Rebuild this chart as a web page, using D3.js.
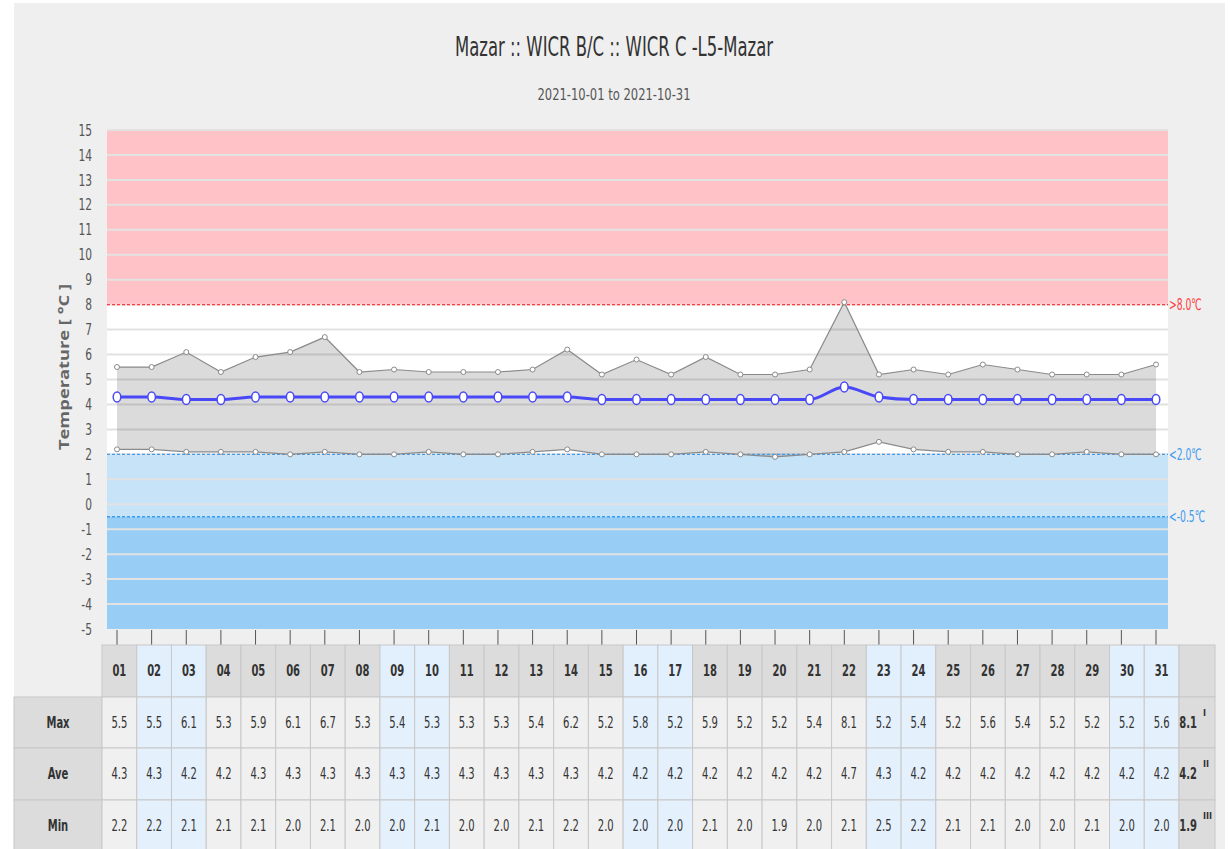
<!DOCTYPE html>
<html>
<head>
<meta charset="utf-8">
<script src="https://cdn.jsdelivr.net/npm/d3@7"></script>
<style>
	html, body { margin: 0; padding: 0; background: #fff; }
	#chart { width: 1230px; height: 849px; }
	text { font-family: "Liberation Sans Narrow", "DejaVu Sans Condensed", sans-serif; }
</style>
</head>
<body>
<div id="chart"></div>
<script>
// --- data
let days     = ['01','02','03','04','05','06','07','08','09','10','11','12','13','14','15','16','17','18','19','20','21','22','23','24','25','26','27','28','29','30','31'];
let weekends = ['02','03','09','10','16','17','23','24','30','31'];
let maxVals  = [5.5,5.5,6.1,5.3,5.9,6.1,6.7,5.3,5.4,5.3,5.3,5.3,5.4,6.2,5.2,5.8,5.2,5.9,5.2,5.2,5.4,8.1,5.2,5.4,5.2,5.6,5.4,5.2,5.2,5.2,5.6];
let aveVals  = [4.3,4.3,4.2,4.2,4.3,4.3,4.3,4.3,4.3,4.3,4.3,4.3,4.3,4.3,4.2,4.2,4.2,4.2,4.2,4.2,4.2,4.7,4.3,4.2,4.2,4.2,4.2,4.2,4.2,4.2,4.2];
let minVals  = [2.2,2.2,2.1,2.1,2.1,2.0,2.1,2.0,2.0,2.1,2.0,2.0,2.1,2.2,2.0,2.0,2.0,2.1,2.0,1.9,2.0,2.1,2.5,2.2,2.1,2.1,2.0,2.0,2.1,2.0,2.0];
let yTicks   = d3.range(-5, 16);
let limits   = [
	{ value: 8,    label: '>8.0℃',  color: '#ff3c3c' },
	{ value: 2,    label: '<2.0℃',  color: '#3d9bf0' },
	{ value: -0.5, label: '<-0.5℃', color: '#3d9bf0' }
];
let bands    = [
	{ from: 8,    to: 15,   color: '#ffc2c6' },
	{ from: 2,    to: 8,    color: '#ffffff' },
	{ from: -0.5, to: 2,    color: '#c6e3f8' },
	{ from: -5,   to: -0.5, color: '#98cef6' }
];
let rowNames = ['Max', 'Ave', 'Min'];
let summary  = [{ v: '8.1', s: 'I' }, { v: '4.2', s: 'II' }, { v: '1.9', s: 'III' }];

// --- layout
let canvasWidth  = 1230;
let canvasHeight = 849;
let plot = { left: 107, right: 1168, top: 130, bottom: 629 };

let svg = d3.select('#chart').append('svg')
	.attr('width', canvasWidth)
	.attr('height', canvasHeight);

svg.append('rect')
	.attr('x', 14).attr('y', 3)
	.attr('width', 1211).attr('height', canvasHeight)
	.attr('fill', '#efefef');

let x = d3.scalePoint().domain(days).range([117, 1156]);
let y = d3.scaleLinear().domain([-5, 15]).range([plot.bottom, plot.top]);

// titles
svg.append('text')
	.attr('x', 614).attr('y', 56)
	.attr('text-anchor', 'middle')
	.attr('font-size', 26)
	.attr('fill', '#333')
	.attr('textLength', 318).attr('lengthAdjust', 'spacingAndGlyphs')
	.text('Mazar :: WICR B/C :: WICR C -L5-Mazar');

svg.append('text')
	.attr('x', 614).attr('y', 100)
	.attr('text-anchor', 'middle')
	.attr('font-size', 16)
	.attr('fill', '#555')
	.attr('textLength', 153).attr('lengthAdjust', 'spacingAndGlyphs')
	.text('2021-10-01 to 2021-10-31');

// bands
svg.append('g').selectAll('rect')
	.data(bands).enter().append('rect')
		.attr('x', plot.left)
		.attr('y', (o) => y(o.to))
		.attr('width', plot.right - plot.left)
		.attr('height', (o) => y(o.from) - y(o.to))
		.attr('fill', (o) => o.color);

// grid
svg.append('g').selectAll('line')
	.data(yTicks.slice(1)).enter().append('line')
		.attr('x1', plot.left).attr('x2', plot.right)
		.attr('y1', (o) => y(o)).attr('y2', (o) => y(o))
		.attr('stroke', '#e2e2e2')
		.attr('stroke-width', 2);

// y axis labels
svg.append('g').selectAll('text')
	.data(yTicks).enter().append('text')
		.attr('class', 'narrow')
		.attr('x', 92)
		.attr('y', (o) => y(o))
		.attr('dy', '0.35em')
		.attr('text-anchor', 'end')
		.attr('font-size', 16)
		.attr('fill', '#555')
		.text((o) => o);

svg.append('text')
	.attr('transform', 'translate(69,' + y(5.5) + ') rotate(-90)')
	.attr('text-anchor', 'middle')
	.attr('font-size', 14)
	.attr('font-weight', 'bold')
	.attr('fill', '#666')
	.style('font-family', '"Open Sans", sans-serif')
	.attr('textLength', 166).attr('lengthAdjust', 'spacingAndGlyphs')
	.text('Temperature [ °C ]');

// min-max area
let idx = d3.range(days.length);
let area = d3.area()
	.x((i) => x(days[i]))
	.y0((i) => y(minVals[i]))
	.y1((i) => y(maxVals[i]));

svg.append('path')
	.datum(idx)
	.attr('d', area)
	.attr('fill', '#000')
	.attr('fill-opacity', 0.14);

// limit lines
let groupLimit = svg.append('g').selectAll('g')
	.data(limits).enter().append('g');

groupLimit.append('line')
	.attr('x1', plot.left).attr('x2', plot.right)
	.attr('y1', (o) => y(o.value)).attr('y2', (o) => y(o.value))
	.attr('stroke', (o) => o.color)
	.attr('stroke-width', 1.3)
	.attr('stroke-dasharray', '3,2');

groupLimit.append('text')
	.attr('class', 'narrow tight')
	.attr('x', plot.right + 1)
	.attr('y', (o) => y(o.value))
	.attr('dy', '0.35em')
	.attr('font-size', 16)
	.attr('fill', (o) => o.color)
	.text((o) => o.label);

// max/min lines
[maxVals, minVals].forEach((vals) => {
	let line = d3.line().x((i) => x(days[i])).y((i) => y(vals[i]));
	svg.append('path')
		.datum(idx)
		.attr('d', line)
		.attr('fill', 'none')
		.attr('stroke', '#8a8a8a')
		.attr('stroke-width', 1.2);
	svg.append('g').selectAll('circle')
		.data(idx).enter().append('circle')
			.attr('cx', (i) => x(days[i]))
			.attr('cy', (i) => y(vals[i]))
			.attr('r', 2.5)
			.attr('fill', '#fff')
			.attr('stroke', '#8a8a8a')
			.attr('stroke-width', 1);
});

// average line
let aveLine = d3.line()
	.x((i) => x(days[i]))
	.y((i) => y(aveVals[i]))
	.curve(d3.curveMonotoneX);

svg.append('path')
	.datum(idx)
	.attr('d', aveLine)
	.attr('fill', 'none')
	.attr('stroke', '#4848f8')
	.attr('stroke-width', 3);

svg.append('g').selectAll('ellipse')
	.data(idx).enter().append('ellipse')
		.attr('cx', (i) => x(days[i]))
		.attr('cy', (i) => y(aveVals[i]))
		.attr('rx', 3.8).attr('ry', 5)
		.attr('fill', '#fff')
		.attr('stroke', '#4a4af5')
		.attr('stroke-width', 1.5);

// x ticks
svg.append('g').selectAll('line')
	.data(days).enter().append('line')
		.attr('x1', (o) => x(o)).attr('x2', (o) => x(o))
		.attr('y1', 630).attr('y2', 645)
		.attr('stroke', '#555')
		.attr('stroke-width', 1);

// --- table
let col   = d3.scaleBand().domain(days).range([102, 1179]);
let rowY  = [645, 697, 748, 800, 852];
let rows  = [maxVals, aveVals, minVals];
let grid  = '#c8c8c8';
let isWe  = (d) => weekends.indexOf(d) >= 0;

let table = svg.append('g').attr('id', 'table');

// header cells
let head = table.append('g').selectAll('g')
	.data(days).enter().append('g');
head.append('rect')
	.attr('x', (o) => col(o)).attr('y', rowY[0])
	.attr('width', col.bandwidth()).attr('height', rowY[1] - rowY[0])
	.attr('fill', (o) => isWe(o) ? '#e2effc' : '#dcdcdc')
	.attr('stroke', grid);
head.append('text')
	.attr('class', 'narrow')
	.attr('x', (o) => col(o) + col.bandwidth() / 2)
	.attr('y', (rowY[0] + rowY[1]) / 2)
	.attr('dy', '0.35em')
	.attr('text-anchor', 'middle')
	.attr('font-size', 15)
	.attr('font-weight', 'bold')
	.attr('fill', '#333')
	.text((o) => o);

table.append('rect')
	.attr('x', 1179).attr('y', rowY[0])
	.attr('width', 36).attr('height', rowY[1] - rowY[0])
	.attr('fill', '#dcdcdc').attr('stroke', grid);

rows.forEach((vals, r) => {
	let y0 = rowY[r + 1], y1 = rowY[r + 2];
	let mid = (y0 + y1) / 2;

	table.append('rect')
		.attr('x', 14).attr('y', y0)
		.attr('width', 88).attr('height', y1 - y0)
		.attr('fill', '#dcdcdc').attr('stroke', grid);
	table.append('text')
		.attr('class', 'narrow')
		.attr('x', 58).attr('y', mid).attr('dy', '0.35em')
		.attr('text-anchor', 'middle')
		.attr('font-size', 15).attr('font-weight', 'bold')
		.attr('fill', '#333')
		.text(rowNames[r]);

	let cells = table.append('g').selectAll('g')
		.data(days).enter().append('g');
	cells.append('rect')
		.attr('x', (o) => col(o)).attr('y', y0)
		.attr('width', col.bandwidth()).attr('height', y1 - y0)
		.attr('fill', (o) => isWe(o) ? '#e4f0fc' : '#f0f0f0')
		.attr('stroke', grid);
	cells.append('text')
		.attr('class', 'narrow')
		.attr('x', (o) => col(o) + col.bandwidth() / 2)
		.attr('y', mid).attr('dy', '0.35em')
		.attr('text-anchor', 'middle')
		.attr('font-size', 15)
		.attr('fill', '#333')
		.text((o, i) => vals[i].toFixed(1));

	table.append('rect')
		.attr('x', 1179).attr('y', y0)
		.attr('width', 36).attr('height', y1 - y0)
		.attr('fill', '#dcdcdc').attr('stroke', grid);
	table.append('text')
		.attr('class', 'narrow')
		.attr('x', 1197).attr('y', mid).attr('dy', '0.35em')
		.attr('text-anchor', 'end')
		.attr('font-size', 15).attr('font-weight', 'bold')
		.attr('fill', '#333')
		.text(summary[r].v);
	table.append('text')
		.attr('x', 1203).attr('y', mid - 7)
		.attr('font-size', 9).attr('font-weight', 'bold')
		.attr('fill', '#333')
		.text(summary[r].s);
});

// condensed look: squeeze glyphs horizontally
svg.selectAll('.narrow').each(function() {
	let k = d3.select(this).classed('tight') ? 0.64 : 0.74;
	let w = this.getComputedTextLength();
	d3.select(this)
		.attr('textLength', w * k)
		.attr('lengthAdjust', 'spacingAndGlyphs');
});
</script>
</body>
</html>
